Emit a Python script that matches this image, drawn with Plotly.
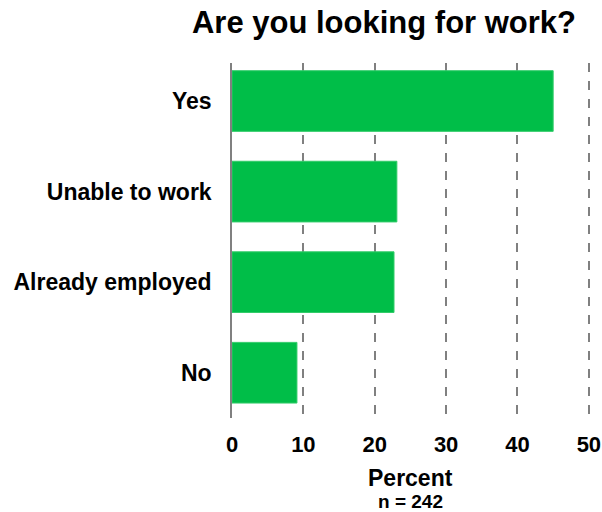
import plotly.graph_objects as go

# Survey responses (percent of respondents, n = 242)
categories = ["Yes", "Unable to work", "Already employed", "No"]
percents = [45.0, 23.1, 22.7, 9.1]
x_ticks = [0, 10, 20, 30, 40, 50]
sample_size = 242

FONT = "Arial, Liberation Sans, sans-serif"
W, H = 602, 512
M_L, M_R, M_T, M_B = 232, 11, 63, 94
plot_h = H - M_T - M_B
plot_w = W - M_L - M_R

fig = go.Figure(
    go.Bar(
        y=categories,
        x=percents,
        orientation="h",
        marker=dict(color="#00BE48", line=dict(color="#33CC6A", width=1)),
        hoverinfo="x+y",
    )
)

fig.update_layout(
    width=W,
    height=H,
    margin=dict(l=M_L, r=M_R, t=M_T, b=M_B, autoexpand=False),
    plot_bgcolor="white",
    paper_bgcolor="white",
    bargap=0.33,
    showlegend=False,
    font=dict(family=FONT, color="black"),
    title=dict(
        text="<b>Are you looking for work?</b>",
        x=384 / W,
        xanchor="center",
        y=1 - 22 / H,
        yanchor="middle",
        font=dict(family=FONT, size=31, color="black"),
    ),
)

fig.update_xaxes(
    range=[0, 50.3],
    tickvals=x_ticks,
    ticktext=[f"<b>{v}</b>" for v in x_ticks],
    tickfont=dict(family=FONT, size=22, color="black"),
    showgrid=True,
    gridcolor="#808080",
    griddash="dash",
    gridwidth=1.5,
    zeroline=False,
    showline=False,
    ticks="",
    ticklabelstandoff=11,
    automargin=False,
    fixedrange=True,
)

fig.update_yaxes(
    type="category",
    categoryorder="array",
    categoryarray=categories[::-1],
    range=[-0.5, 3.42],
    tickvals=categories,
    ticktext=[f"<b>{c}</b>" for c in categories],
    tickfont=dict(family=FONT, size=23, color="black"),
    showline=True,
    linecolor="#808080",
    linewidth=1.5,
    showgrid=False,
    ticks="",
    ticklabelstandoff=14,
    automargin=False,
    fixedrange=True,
)

# Axis caption and sample size under the x axis, centred on 0..50
x_mid = 25 * 7.14 / plot_w
fig.add_annotation(
    text="<b>Percent</b>",
    x=x_mid, xref="paper",
    y=-(478 - (H - M_B)) / plot_h, yref="paper",
    xanchor="center", yanchor="middle",
    showarrow=False,
    font=dict(family=FONT, size=23, color="black"),
)
fig.add_annotation(
    text=f"<b>n = {sample_size}</b>",
    x=x_mid, xref="paper",
    y=-(502 - (H - M_B)) / plot_h, yref="paper",
    xanchor="center", yanchor="middle",
    showarrow=False,
    font=dict(family=FONT, size=19, color="black"),
)

fig.write_html("out.html")
